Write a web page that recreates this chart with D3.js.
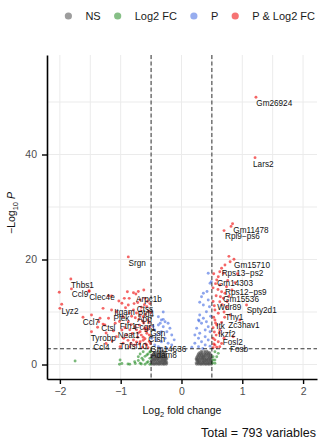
<!DOCTYPE html>
<html>
<head>
<meta charset="utf-8">
<script src="https://cdn.jsdelivr.net/npm/d3@7"></script>
<style>
  body { margin: 0; background: #fff; }
  svg { display: block; font-family: "Liberation Sans", Arial, Helvetica, sans-serif; }
</style>
</head>
<body>
<svg id="chart" width="321" height="441"></svg>
<script>
// ---- cut-offs used to colour the genes ----
const fcCutoff = 0.5;      // |log2 fold change|
const pCutoff = 3;         // -log10 P

// ---- axis ticks ----
const xTicks = [-2, -1, 0, 1, 2];
const xMinor = [-1.5, -0.5, 0.5, 1.5];
const yTicks = [0, 20, 40];
const yMinor = [10, 30, 50];

// ---- legend ----
const legendKeys = ["NS", "Log2 FC", "P", "P & Log2 FC"];
const legendColours = ["#4d4d4d", "#228b22", "#4169e1", "#ee0000"];

const totalVariables = 793;

// ---- genes: [log2 fold change, -log10 P] ----
const upRegulated = [
  [1.225,50.9],[1.21,39.4],[0.84,26.8],[0.815,26.3],[0.70,25.5],
  [0.863,20.04],[0.80,19.58],[0.715,18.95],[0.66,18.32],[0.63,17.68],[0.69,17.37],[0.605,16.72],
  [0.58,16.1],[0.63,15.14],[0.74,14.82],[0.66,13.87],[0.715,13.56],[0.69,12.61],[0.63,11.96],
  [1.07,11.33],[0.74,10.9],[0.55,10.38],[0.605,9.75],[0.80,9.43],[0.96,8.48],[0.55,8.48],
  [0.58,7.52],[0.63,6.57],[0.85,5.3],[0.605,4.34],[0.55,3.71],[0.63,3.39],
  [0.52,12.0],[0.54,11.2],[0.53,9.0],[0.56,7.9],[0.52,7.0],[0.54,6.2],[0.57,5.6],[0.52,5.0],
  [0.55,4.7],[0.53,3.9],[0.58,3.3],[0.52,3.2],[0.60,14.3],[0.64,12.9],[0.67,11.4],[0.70,10.0],
  [0.75,12.0],[0.78,13.0],[0.83,14.2],[0.88,15.6],[0.76,16.0],[0.92,17.3],[0.71,9.0],[0.66,8.0],
  [0.62,6.0],[0.70,5.0],[0.66,4.0],[0.78,20.6],[0.56,15.4],[0.52,14.6],[0.57,13.1],[0.53,17.3]
];

const downRegulated = [
  [-0.875,20.5],[-1.82,16.3],[-1.81,14.4],[-1.52,14.06],[-2.01,13.75],[-1.97,11.47],[-2.0,10.7],
  [-1.62,8.99],[-1.48,9.43],[-1.36,8.15],[-1.38,7.09],[-1.48,6.25],[-1.20,13.05],[-1.15,13.05],
  [-0.89,13.87],[-0.79,13.68],[-0.75,13.43],[-0.86,12.6],[-0.68,12.29],[-0.98,11.66],[-0.875,11.33],
  [-1.29,10.7],[-1.15,10.38],[-1.07,10.06],[-0.57,11.0],[-0.79,10.38],[-0.68,9.43],[-0.96,9.1],
  [-1.20,8.8],[-1.34,8.8],[-1.26,7.52],[-1.09,7.85],[-0.875,8.15],[-0.765,7.2],[-0.98,6.57],
  [-0.68,6.25],[-0.57,5.94],[-0.90,5.62],[-1.07,5.3],[-0.79,4.67],[-0.96,4.04],[-0.68,4.34],
  [-0.57,3.71],[-1.01,3.39],[-0.85,3.39],[-0.63,5.18],[-0.52,7.2],[-0.55,8.48],[-0.63,9.1],[-0.51,9.9],
  [-0.72,11.8],[-0.66,10.9],[-0.60,12.6],[-0.54,10.2],[-0.74,9.8],[-0.82,9.2],[-0.70,8.6],[-0.62,7.9],
  [-0.58,7.0],[-0.83,7.6],[-0.74,6.6],[-0.66,5.6],[-0.60,4.9],[-0.53,4.4],[-0.72,5.2],[-0.88,4.6],
  [-0.77,3.7],[-0.64,3.3],[-0.55,3.2],[-0.93,7.0],[-1.02,8.2],[-1.12,6.4],[-0.95,5.0],[-0.69,3.9],
  [-0.53,5.6],[-0.58,6.4],[-0.81,5.9],[-0.64,8.3],[-0.92,10.8],[-1.03,12.1],[-0.71,13.9],[-0.62,14.2],
  [-1.14,4.5],[-1.24,6.0],[-1.29,7.7],[-1.24,4.0],[-1.52,13.9],
  [-0.56,12.0],[-0.61,11.4],[-0.52,11.6],[-0.67,10.2],[-0.59,9.6],[-0.76,8.9],[-0.53,8.0],
  [-0.69,7.5],[-0.61,6.8],[-0.55,6.7],[-0.71,6.0],[-0.63,4.6],[-0.74,4.3],[-0.59,3.9],[-0.83,4.0],
  [-0.86,9.8],[-0.78,11.6],[-0.94,12.6],[-0.85,6.6],[-0.51,4.0]
];

// significant P but small fold change
const smallChangeSignificant = [
  [-0.33,8.48],[-0.27,8.15],[-0.22,7.85],[-0.38,7.52],[-0.30,7.2],[-0.19,6.9],[-0.24,6.25],
  [-0.35,5.94],[-0.16,5.62],[-0.27,4.99],[-0.41,4.67],[-0.33,4.34],[-0.22,4.04],[-0.38,3.39],
  [-0.24,3.09],[-0.16,3.71],[-0.44,6.57],[-0.38,9.1],[-0.30,8.6],[-0.35,7.85],[-0.33,6.25],
  [-0.41,5.62],[-0.44,3.71],[-0.35,3.09],[-0.49,5.0],[-0.47,7.3],[-0.12,4.7],[-0.30,10.0],
  [0.44,17.37],[0.49,15.77],[0.47,15.47],[0.36,13.56],[0.33,12.91],[0.44,12.29],[0.36,11.33],
  [0.41,10.06],[0.30,9.43],[0.36,8.8],[0.28,8.48],[0.41,8.15],[0.33,7.85],[0.44,7.2],[0.25,6.9],
  [0.39,6.57],[0.30,5.94],[0.47,6.25],[0.22,5.62],[0.39,5.3],[0.28,4.99],[0.44,4.67],[0.33,4.34],
  [0.22,4.04],[0.39,3.71],[0.28,3.39],[0.17,3.3],[0.47,3.5],[0.35,3.05],[0.29,8.3],[0.30,11.85],
  [0.42,13.9],[0.46,11.0],[0.48,9.2]
];

// large fold change, P above the cut-off
const largeChangeOnly = [
  [-1.75,0.67],[-1.01,0.86],[-1.02,0.05],[-0.85,0.05],[-0.77,0.54],[-0.71,1.49],[-0.68,0.24],
  [-0.63,0.86],[-0.60,0.05],[-0.57,1.8],[-0.55,0.54],[-0.52,1.17],[-0.51,2.44],[-0.52,0.05],
  [-0.98,0.2],[-0.76,0.2],[-0.71,0.75],[-0.65,1.2],[-0.60,1.55],[-0.57,0.35],[-0.55,2.0],
  [-0.52,2.4],[-0.63,2.44],[-0.66,0.1],[-0.88,0.1],[-0.68,2.0],
  [0.55,2.44],[0.605,2.13],[0.58,1.49],[0.52,0.86],[0.55,0.23],[0.52,1.49],[0.55,0.86],[0.51,0.3]
];

// not significant: rows of [-log10 P, fold changes]
const nsRows = [
  [0.05, [-0.49,-0.46,-0.44,-0.41,-0.38,-0.36,-0.33,-0.30,-0.28,-0.25, 0.25,0.28,0.31,0.33,0.36,0.39,0.41,0.44,0.46,0.49]],
  [0.3,  [-0.48,-0.45,-0.42,-0.40,-0.37,-0.34,-0.31,-0.29,-0.26,-0.24, 0.24,0.27,0.29,0.32,0.35,0.37,0.40,0.43,0.45,0.48]],
  [0.55, [-0.50,-0.47,-0.43,-0.39,-0.36,-0.35,-0.32,-0.29,-0.27,-0.25, 0.26,0.28,0.30,0.33,0.36,0.38,0.41,0.44,0.47,0.49]],
  [0.8,  [-0.49,-0.46,-0.44,-0.41,-0.38,-0.33,-0.31,-0.28,-0.26, 0.25,0.27,0.30,0.34,0.37,0.40,0.42,0.45,0.48]],
  [1.05, [-0.48,-0.45,-0.42,-0.39,-0.37,-0.34,-0.30,-0.27,-0.24, 0.24,0.26,0.29,0.32,0.35,0.38,0.41,0.44,0.47,0.49]],
  [1.3,  [-0.49,-0.46,-0.43,-0.40,-0.36,-0.33,-0.31,-0.28,-0.25, 0.25,0.28,0.31,0.34,0.36,0.39,0.43,0.46,0.48]],
  [1.55, [-0.47,-0.44,-0.41,-0.38,-0.35,-0.32,-0.29,-0.26, 0.26,0.29,0.32,0.35,0.37,0.40,0.44,0.47]],
  [1.8,  [-0.48,-0.45,-0.42,-0.37,-0.34,-0.30,-0.27, 0.27,0.30,0.33,0.36,0.39,0.42,0.45,0.48]],
  [2.05, [-0.46,-0.43,-0.39,-0.36,-0.33,-0.29,-0.26, 0.28,0.31,0.34,0.38,0.41,0.44,0.47]],
  [2.3,  [-0.44,-0.40,-0.35,-0.31,-0.28, 0.30,0.34,0.39,0.43,0.46]],
  [2.55, [-0.38,-0.33,-0.30, 0.33,0.38,0.42]]
];

// ---- labelled genes ----
const geneNames = ["Gm26924","Lars2","Gm11478","Rpl9\u2212ps6","Gm15710","Rps13\u2212ps2","Gm14303","Rps12\u2212ps9",
  "Gm15536","Wdr89","Spty2d1","Thy1","Zc3hav1","Itk","Ikzf2","Fosl2","Fosb",
  "Srgn","Thbs1","Ccl9","Clec4e","Lyz2","Ccl7","Ctsl","Tyrobp","Ccl4","Arpc1b","Ctss","Itgam","Pld4",
  "Plek","App","Fth1","Fcgr1","Gsn","Neat1","Ctsh","Tnfsf10","Gm14636","Adam8"];
// where the repelled text settled, in data units
const labelFC = [1.526,1.346,1.143,1.003,1.16,1.003,0.88,1.058,0.979,0.786,1.319,0.869,1.028,0.641,0.748,0.844,0.946,
  -0.729,-1.628,-1.669,-1.308,-1.834,-1.488,-1.204,-1.286,-1.316,-0.535,-0.60,-0.9375,-0.584,
  -0.987,-0.609,-0.88,-0.60,-0.39,-0.868,-0.408,-0.793,-0.217,-0.288];
const labelP = [49.75,38.0,25.56,24.34,18.95,17.37,15.47,13.68,12.29,10.9,10.25,8.99,7.39,7.2,5.81,4.15,2.9,
  19.28,15.0,13.37,12.76,10.06,8.04,6.95,4.86,3.28,12.38,10.57,9.87,9.62,
  8.8,8.48,7.33,7.09,5.94,5.62,4.8,3.52,2.9,1.81];

// ---- build the gene table and classify it ----
const genes = [];
[upRegulated, downRegulated, smallChangeSignificant, largeChangeOnly].forEach(arr =>
  arr.forEach(([fc, p]) => genes.push({ fc, p })));
nsRows.forEach(([p, fcs]) => fcs.forEach(fc => genes.push({ fc, p })));

function category(d) {
  const bigFC = Math.abs(d.fc) > fcCutoff, sigP = d.p > pCutoff;
  if (bigFC && sigP) return 3;
  if (sigP) return 2;
  if (bigFC) return 1;
  return 0;
}

// ---- layout ----
const svg = d3.select("#chart");
const panel = { left: 47, right: 317, top: 55, bottom: 379 };

const x = d3.scaleLinear().domain([-2.212, 2.229]).range([panel.left, panel.right]);
const y = d3.scaleLinear().domain([-2.76, 58.95]).range([panel.bottom, panel.top]);

// grid
const grid = svg.append("g");
grid.selectAll(".gx").data(xTicks.concat(xMinor)).join("line")
  .attr("x1", d => x(d)).attr("x2", d => x(d))
  .attr("y1", panel.top).attr("y2", panel.bottom)
  .attr("stroke", "#ebebeb").attr("stroke-width", 1);
grid.selectAll(".gy").data(yTicks.concat(yMinor)).join("line")
  .attr("x1", panel.left).attr("x2", panel.right)
  .attr("y1", d => y(d)).attr("y2", d => y(d))
  .attr("stroke", "#ebebeb").attr("stroke-width", 1);

// points, drawn NS first so the significant genes sit on top
const order = genes.slice().sort((a, b) => category(a) - category(b));
svg.append("g").selectAll("circle").data(order).join("circle")
  .attr("cx", d => x(d.fc)).attr("cy", d => y(d.p)).attr("r", 1.45)
  .attr("fill", d => legendColours[category(d)])
  .attr("fill-opacity", 0.6);

// cut-off lines
const cut = svg.append("g").attr("stroke", "#000").attr("stroke-width", 0.8)
  .attr("stroke-dasharray", "4,2.5").attr("fill", "none");
[-fcCutoff, fcCutoff].forEach(v => cut.append("line")
  .attr("x1", x(v)).attr("x2", x(v)).attr("y1", panel.top).attr("y2", panel.bottom));
cut.append("line").attr("x1", panel.left).attr("x2", panel.right)
  .attr("y1", y(pCutoff)).attr("y2", y(pCutoff));

// gene labels
svg.append("g").selectAll("text").data(geneNames).join("text")
  .attr("x", (d, i) => x(labelFC[i])).attr("y", (d, i) => y(labelP[i]))
  .attr("text-anchor", "middle").attr("dominant-baseline", "central")
  .attr("font-size", 8.2).attr("fill", "#111")
  .text(d => d);

// axes
const fmt = d => d < 0 ? "\u2212" + Math.abs(d) : String(d);
const xAxis = svg.append("g").attr("transform", `translate(0,${panel.bottom})`)
  .call(d3.axisBottom(x).tickValues(xTicks).tickFormat(fmt).tickSize(5).tickSizeOuter(0).tickPadding(4));
const yAxis = svg.append("g").attr("transform", `translate(${panel.left},0)`)
  .call(d3.axisLeft(y).tickValues(yTicks).tickFormat(fmt).tickSize(5).tickSizeOuter(0).tickPadding(5));
[xAxis, yAxis].forEach(g => {
  g.select(".domain").attr("stroke", "#000").attr("stroke-width", 1.6);
  g.selectAll(".tick line").attr("stroke", "#000").attr("stroke-width", 1.4);
  g.selectAll(".tick text").attr("font-size", 10.5).attr("fill", "#4d4d4d")
    .attr("font-family", "'Liberation Sans', Arial, sans-serif");
});

// axis titles
const xt = svg.append("text").attr("x", (panel.left + panel.right) / 2).attr("y", 414)
  .attr("text-anchor", "middle").attr("font-size", 10.5).attr("fill", "#111");
xt.append("tspan").text("Log");
xt.append("tspan").attr("font-size", 7.5).attr("dy", 2.5).text("2");
xt.append("tspan").attr("dy", -2.5).text(" fold change");

const yt = svg.append("text").attr("transform", `translate(15,${213}) rotate(-90)`)
  .attr("text-anchor", "middle").attr("font-size", 10.5).attr("fill", "#111");
yt.append("tspan").text("\u2212Log");
yt.append("tspan").attr("font-size", 7.5).attr("dy", 2.5).text("10");
yt.append("tspan").attr("dy", -2.5).attr("font-style", "italic").text(" P");

// caption
svg.append("text").attr("x", 316).attr("y", 437).attr("text-anchor", "end")
  .attr("font-size", 12.5).attr("fill", "#111")
  .text(`Total = ${totalVariables} variables`);

// legend, laid out right-to-left so it ends at the panel edge
const lg = svg.append("g");
const items = legendKeys.map((k, i) => {
  const g = lg.append("g");
  g.append("circle").attr("r", 3.6).attr("fill", legendColours[i]).attr("fill-opacity", 0.55);
  const t = g.append("text").attr("x", 17).attr("y", 0).attr("dominant-baseline", "central")
    .attr("font-size", 11).attr("fill", "#1a1a1a").text(k);
  return { g, w: t.node().getComputedTextLength() };
});
let cx = 315;
for (let i = items.length - 1; i >= 0; i--) {
  cx -= items[i].w + 17;
  items[i].g.attr("transform", `translate(${cx},16)`);
  cx -= 17;
}
</script>
</body>
</html>
